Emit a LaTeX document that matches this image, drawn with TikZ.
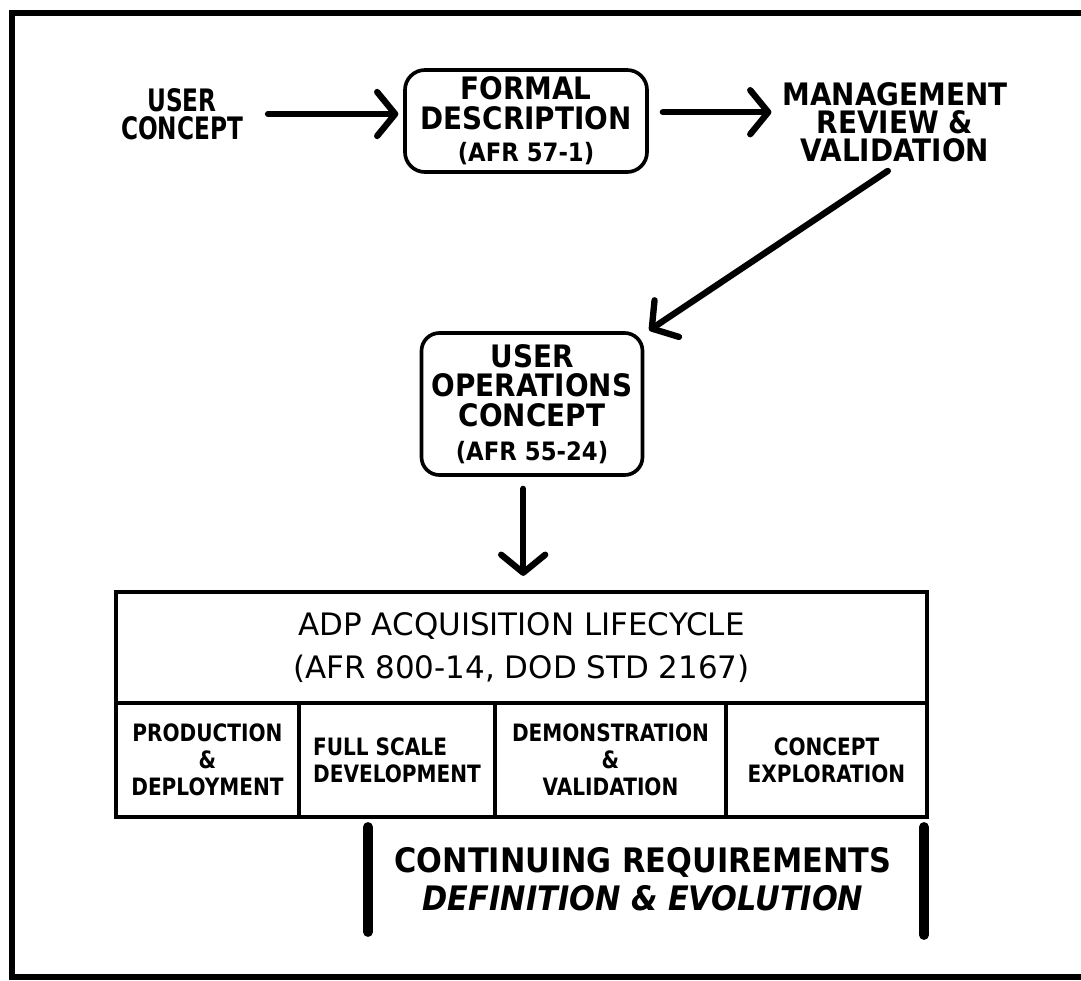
\documentclass[tikz,border=0pt]{standalone}
\usepackage{fontspec}
\setmainfont{DejaVu Sans}[FakeStretch=0.9]
\newfontfamily\narrowfont{DejaVu Sans}[FakeStretch=0.75]
\newfontfamily\cellfont{DejaVu Sans}[FakeStretch=0.84]
\newfontfamily\widefont{DejaVu Sans}[FakeStretch=1.0]
\usetikzlibrary{arrows.meta}
\tikzset{>={Straight Barb[length=4.5mm,width=11mm,round]}}
\tikzset{
    flow/.style={->, line width=4.5pt, line cap=round},
    captxt/.style={font=\fontsize{22}{20}\selectfont\bfseries, align=center, inner sep=2pt},
    rbox/.style={draw, line width=2.6pt, rounded corners=0.5cm, align=center,
        font=\fontsize{22}{21}\selectfont\bfseries, inner sep=0pt},
    cell/.style={draw, line width=3pt, minimum height=2.85cm, align=center, inner sep=0pt,
        font=\fontsize{17}{19}\selectfont\cellfont\bfseries},
    sidebar/.style={line width=7pt, line cap=round},
}

\begin{document}
\begin{tikzpicture}[x=0.025cm, y=-0.025cm]
    \useasboundingbox (0,0) rectangle (1081,981);
    \def\up{0.22cm};

    % frame, open on the right
    \draw[line width=4pt] (1081,13) -- (12,13) -- (12,977) -- (1081,977);

    \node[captxt, font=\fontsize{22}{20}\selectfont\narrowfont\bfseries] (user) at (182,114) {USER\\CONCEPT};
    \node[rbox, minimum width=6.05cm, minimum height=2.55cm] (formal) at (526,121)
        {FORMAL\\DESCRIPTION\\[2pt]{\fontsize{18}{18}\selectfont (AFR 57-1)}};
    \node[captxt] (mgmt) at (895,122) {MANAGEMENT\\REVIEW \&\\VALIDATION};

    \node[rbox, rounded corners=0.45cm, minimum width=5.525cm, minimum height=3.55cm] (uoc) at (532,404)
        {USER\\OPERATIONS\\CONCEPT\\[3pt]{\fontsize{18}{18}\selectfont (AFR 55-24)}};

    % lifecycle block
    \node[draw, line width=3pt, minimum width=20.275cm, minimum height=2.775cm, align=center,
        font=\fontsize{22}{30.6}\selectfont\widefont] (acq) at (521.5,647.5)
        {ADP ACQUISITION LIFECYCLE\\(AFR 800-14, DOD STD 2167)};
    \node[cell, minimum width=4.575cm] (prod) at (207.5,760) {PRODUCTION\\\&\\DEPLOYMENT};
    \node[cell, minimum width=4.9cm, align=left] (fsd) at (397,760) {FULL SCALE\\DEVELOPMENT};
    \node[cell, minimum width=5.775cm] (demo) at (610.5,760) {DEMONSTRATION\\\&\\VALIDATION};
    \node[cell, minimum width=5.025cm] (explo) at (826.5,760) {CONCEPT\\EXPLORATION};

    \draw[flow, shorten <=0.55cm, shorten >=0.12cm] (user.east) -- (user.east -| formal.west);
    \draw[flow, shorten <=0.35cm, shorten >=0.2cm] ([yshift=\up]formal.east) -- ([yshift=\up]formal.east -| mgmt.west);
    \draw[flow] ([shift={(-0.18cm,-0.15cm)}]mgmt.south) -- ([shift={(0.12cm,0.02cm)}]uoc.north east);
    \draw[flow, shorten <=0.3cm, shorten >=0.35cm] ([xshift=-0.22cm]uoc.south) -- ([xshift=-0.22cm]uoc.south |- acq.north);

    \draw[sidebar] (368,827) -- (368,932);
    \draw[sidebar] (924,827) -- (924,935);
    \node[align=center, font=\fontsize{24}{27}\selectfont\bfseries] (evol) at (643,879)
        {CONTINUING REQUIREMENTS\\\itshape DEFINITION \& EVOLUTION};
\end{tikzpicture}
\end{document}
